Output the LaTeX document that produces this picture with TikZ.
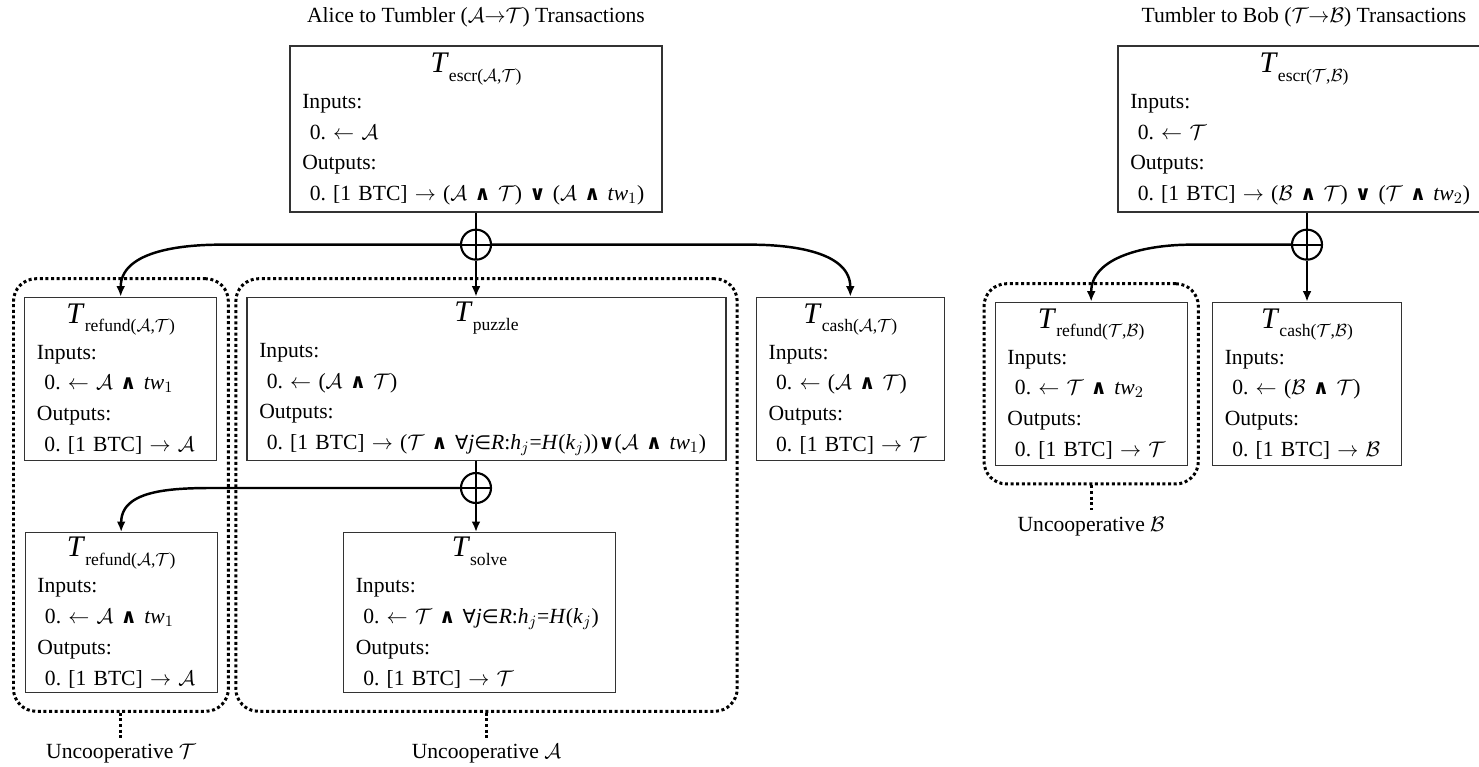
\documentclass[tikz,border=0pt]{standalone}
\usepackage{fontspec}
\setmainfont{Liberation Serif}
\newfontfamily\symb{DejaVu Sans}
\usepackage{tikz}
\usetikzlibrary{arrows.meta, positioning, calc, fit}
\frenchspacing

\newcommand{\txfont}{\fontsize{12.3}{17.5}\selectfont}
\newcommand{\cA}{$\mathcal{A}$}
\newcommand{\cT}{$\mathcal{T}$}
\newcommand{\cB}{$\mathcal{B}$}
\newcommand{\opand}{{\symb\bfseries\fontsize{11.5}{12}\selectfont ∧}}
\newcommand{\opor}{{\symb\bfseries\fontsize{11.5}{12}\selectfont ∨}}
\newcommand{\opall}{{\symb\fontsize{11}{11}\selectfont ∀}}
\newcommand{\opin}{{\symb\fontsize{11}{11}\selectfont ∈}}
\newcommand{\ind}{\hspace*{0.35em}}
\newcommand{\txname}[1]{\makebox[\linewidth]{\fontsize{17}{17}\selectfont\textit{T}\raisebox{-5pt}{\fontsize{10}{10}\selectfont #1}}}

\tikzset{
  txbox/.style = {
    rectangle, draw=black!80, line width=0.7pt, align=left, font=\txfont,
    inner xsep=7pt, inner ysep=2pt, minimum height=3.26cm
  },
  xorgate/.style = {
    circle, draw, line width=1.2pt, minimum size=0.6cm, inner sep=0pt,
    path picture={\draw[line width=1.2pt]
      (path picture bounding box.north) -- (path picture bounding box.south)
      (path picture bounding box.west) -- (path picture bounding box.east);}
  },
  link/.style = {line width=1.4pt, -{Latex[length=6pt,width=5pt]}},
  uncoop/.style = {
    draw, line width=1.7pt, dash pattern=on 1.7pt off 1.5pt,
    rounded corners=0.45cm, inner xsep=0.21cm, inner ysep=0.36cm
  },
  tagline/.style = {line width=1.7pt, dash pattern=on 1.7pt off 1.5pt},
  tag/.style = {font=\txfont}
}

\begin{document}
\begin{tikzpicture}
  \useasboundingbox (0,0) rectangle (29.58,-15.34);
  % Alice -> Tumbler escrow and what can spend it
  \node[txbox, text width=6.95cm, minimum height=3.32cm] (escrAT) at (9.52,-2.58)
    {\txname{escr(\cA,\cT)}\\[3pt]
     Inputs:\\
     \ind 0. $\leftarrow$ \cA\\
     Outputs:\\
     \ind 0. [1 BTC] $\rightarrow$ (\cA{} \opand{} \cT) \opor{} (\cA{} \opand{} \textit{tw}$_1$)};
  \node[tag, above=0.25cm of escrAT] (ttlAT) {Alice to Tumbler (\cA$\rightarrow$\cT) Transactions};
  \node[xorgate, below=0.32cm of escrAT] (c1) {};
  \node[txbox, text width=9.09cm, below=0.72cm of c1, xshift=0.21cm] (puzzle)
    {\txname{puzzle}\\[3pt]
     Inputs:\\
     \ind 0. $\leftarrow$ (\cA{} \opand{} \cT)\\
     Outputs:\\
     \ind 0. [1 BTC] $\rightarrow$ (\cT{} \opand{} \opall\textit{j}\opin\textit{R}:\textit{h}$_j$=\textit{H}(\textit{k}$_j$))\opor(\cA{} \opand{} \textit{tw}$_1$)};
  \node[txbox, text width=3.35cm, left=0.58cm of puzzle] (refundAT)
    {\txname{refund(\cA,\cT)}\\[3pt]
     Inputs:\\
     \ind 0. $\leftarrow$ \cA{} \opand{} \textit{tw}$_1$\\
     Outputs:\\
     \ind 0. [1 BTC] $\rightarrow$ \cA};
  \node[txbox, text width=3.27cm, right=0.58cm of puzzle] (cashAT)
    {\txname{cash(\cA,\cT)}\\[3pt]
     Inputs:\\
     \ind 0. $\leftarrow$ (\cA{} \opand{} \cT)\\
     Outputs:\\
     \ind 0. [1 BTC] $\rightarrow$ \cT};
  % second level, below the puzzle
  \node[xorgate, below=0.22cm of puzzle, xshift=-0.21cm] (c2) {};
  \node[txbox, text width=4.95cm, minimum height=3.2cm, below=0.56cm of c2, xshift=0.07cm] (solve)
    {\txname{solve}\\[3pt]
     Inputs:\\
     \ind\mbox{0. $\leftarrow$ \cT{} \opand{} \opall\textit{j}\opin\textit{R}:\textit{h}$_j$=\textit{H}(\textit{k}$_j$)}\\
     Outputs:\\
     \ind 0. [1 BTC] $\rightarrow$ \cT};
  \node[txbox, text width=3.35cm, minimum height=3.2cm, left=2.5cm of solve] (refundATb)
    {\txname{refund(\cA,\cT)}\\[3pt]
     Inputs:\\
     \ind 0. $\leftarrow$ \cA{} \opand{} \textit{tw}$_1$\\
     Outputs:\\
     \ind 0. [1 BTC] $\rightarrow$ \cA};

  % Tumbler -> Bob escrow and what can spend it
  \node[txbox, text width=6.95cm, minimum height=3.32cm] (escrTB) at (26.08,-2.58)
    {\txname{escr(\cT,\cB)}\\[3pt]
     Inputs:\\
     \ind 0. $\leftarrow$ \cT\\
     Outputs:\\
     \ind 0. [1 BTC] $\rightarrow$ (\cB{} \opand{} \cT) \opor{} (\cT{} \opand{} \textit{tw}$_2$)};
  \node[tag, above=0.25cm of escrTB] (ttlTB) {Tumbler to Bob (\cT$\rightarrow$\cB) Transactions};
  \node[xorgate, below=0.32cm of escrTB, xshift=0.06cm] (c3) {};
  \node[txbox, text width=3.29cm, below=0.82cm of c3] (cashTB)
    {\txname{cash(\cT,\cB)}\\[3pt]
     Inputs:\\
     \ind 0. $\leftarrow$ (\cB{} \opand{} \cT)\\
     Outputs:\\
     \ind 0. [1 BTC] $\rightarrow$ \cB};
  \node[txbox, text width=3.35cm, left=0.48cm of cashTB] (refundTB)
    {\txname{refund(\cT,\cB)}\\[3pt]
     Inputs:\\
     \ind 0. $\leftarrow$ \cT{} \opand{} \textit{tw}$_2$\\
     Outputs:\\
     \ind 0. [1 BTC] $\rightarrow$ \cT};

  % uncooperative cases
  \node[uncoop, fit=(refundAT)(refundATb)] (grpT) {};
  \node[uncoop, fit=(puzzle)(solve)] (grpA) {};
  \node[uncoop, fit=(refundTB)] (grpB) {};
  \node[tag, below=0.5cm of grpT] (lblT) {Uncooperative \cT};
  \node[tag, below=0.5cm of grpA] (lblA) {Uncooperative \cA};
  \node[tag, below=0.5cm of grpB] (lblB) {Uncooperative \cB};
  \draw[tagline] (grpT) -- (lblT);
  \draw[tagline] (grpA) -- (lblA);
  \draw[tagline] (grpB) -- (lblB);

  % spending edges
  \draw[line width=1.4pt] (escrAT) -- (c1);
  \draw[link] (c1.south) -- (c1.south |- puzzle.north);
  \draw[link] (c1.west) -- ($(refundAT.north |- c1.west)+(2cm,0)$) to[out=180,in=90] (refundAT.north);
  \draw[link] (c1.east) -- ($(cashAT.north |- c1.east)+(-2cm,0)$) to[out=0,in=90] (cashAT.north);
  \draw[line width=1.4pt] (puzzle.south -| c2) -- (c2.north);
  \draw[link] (c2.south) -- (c2.south |- solve.north);
  \draw[link] (c2.west) -- ($(refundATb.north |- c2.west)+(2.2cm,0)$) to[out=180,in=90] (refundATb.north);
  \draw[line width=1.4pt] (escrTB.south -| c3) -- (c3.north);
  \draw[link] (c3.south) -- (c3.south |- cashTB.north);
  \draw[link] (c3.west) -- ($(refundTB.north |- c3.west)+(2cm,0)$) to[out=180,in=90] (refundTB.north);
\end{tikzpicture}
\end{document}
